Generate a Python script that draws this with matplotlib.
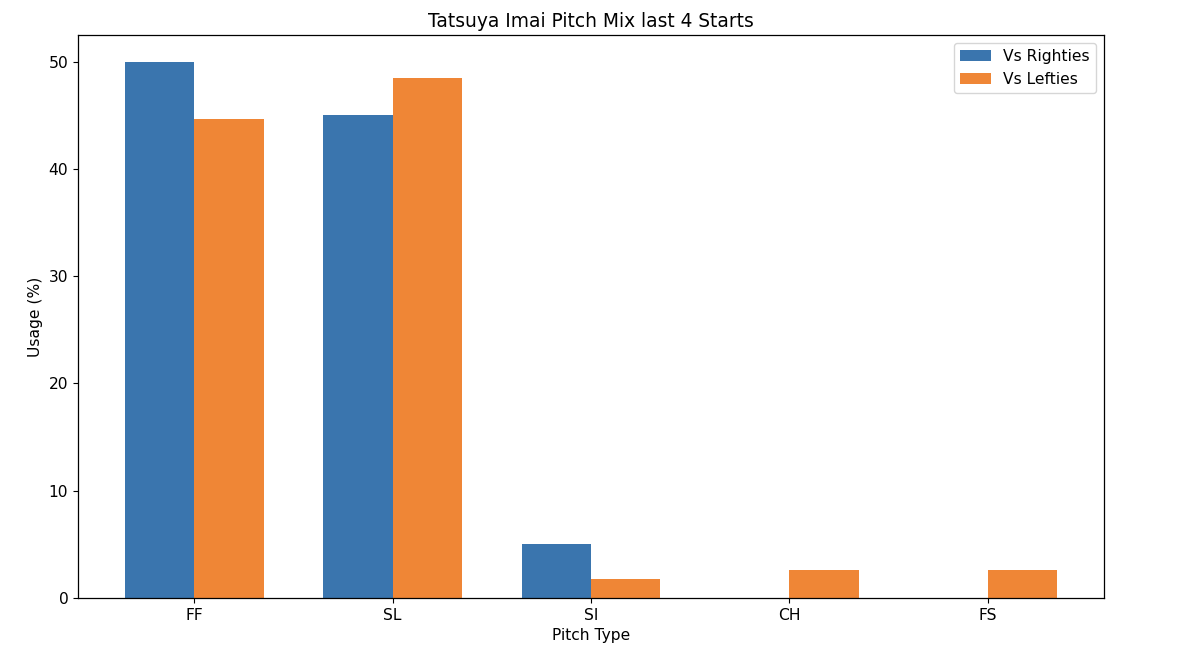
import numpy as np
import matplotlib
matplotlib.use("Agg")
import matplotlib.pyplot as plt

# Pitch usage (%) by batter handedness
pitch_types = ["FF", "SL", "SI", "CH", "FS"]
vs_righties = [50.0, 45.0, 5.0, 0.0, 0.0]
vs_lefties = [44.7, 48.5, 1.8, 2.6, 2.6]

plt.rcParams["font.size"] = 11.2
plt.rcParams["axes.linewidth"] = 0.9

x = np.arange(len(pitch_types))
width = 0.35

fig, ax = plt.subplots(figsize=(12, 6.6), dpi=100)
fig.subplots_adjust(left=0.065, right=0.92, bottom=0.094, top=0.947)

ax.bar(x - width / 2, vs_righties, width, color="#3a75ae", label="Vs Righties")
ax.bar(x + width / 2, vs_lefties, width, color="#ef8636", label="Vs Lefties")

ax.set_xticks(x)
ax.set_xticklabels(pitch_types)
ax.set_xlabel("Pitch Type")
ax.set_ylabel("Usage (%)")
ax.set_title("Tatsuya Imai Pitch Mix last 4 Starts")
ax.legend(loc="upper right")

fig.savefig("out.png", dpi=100)
